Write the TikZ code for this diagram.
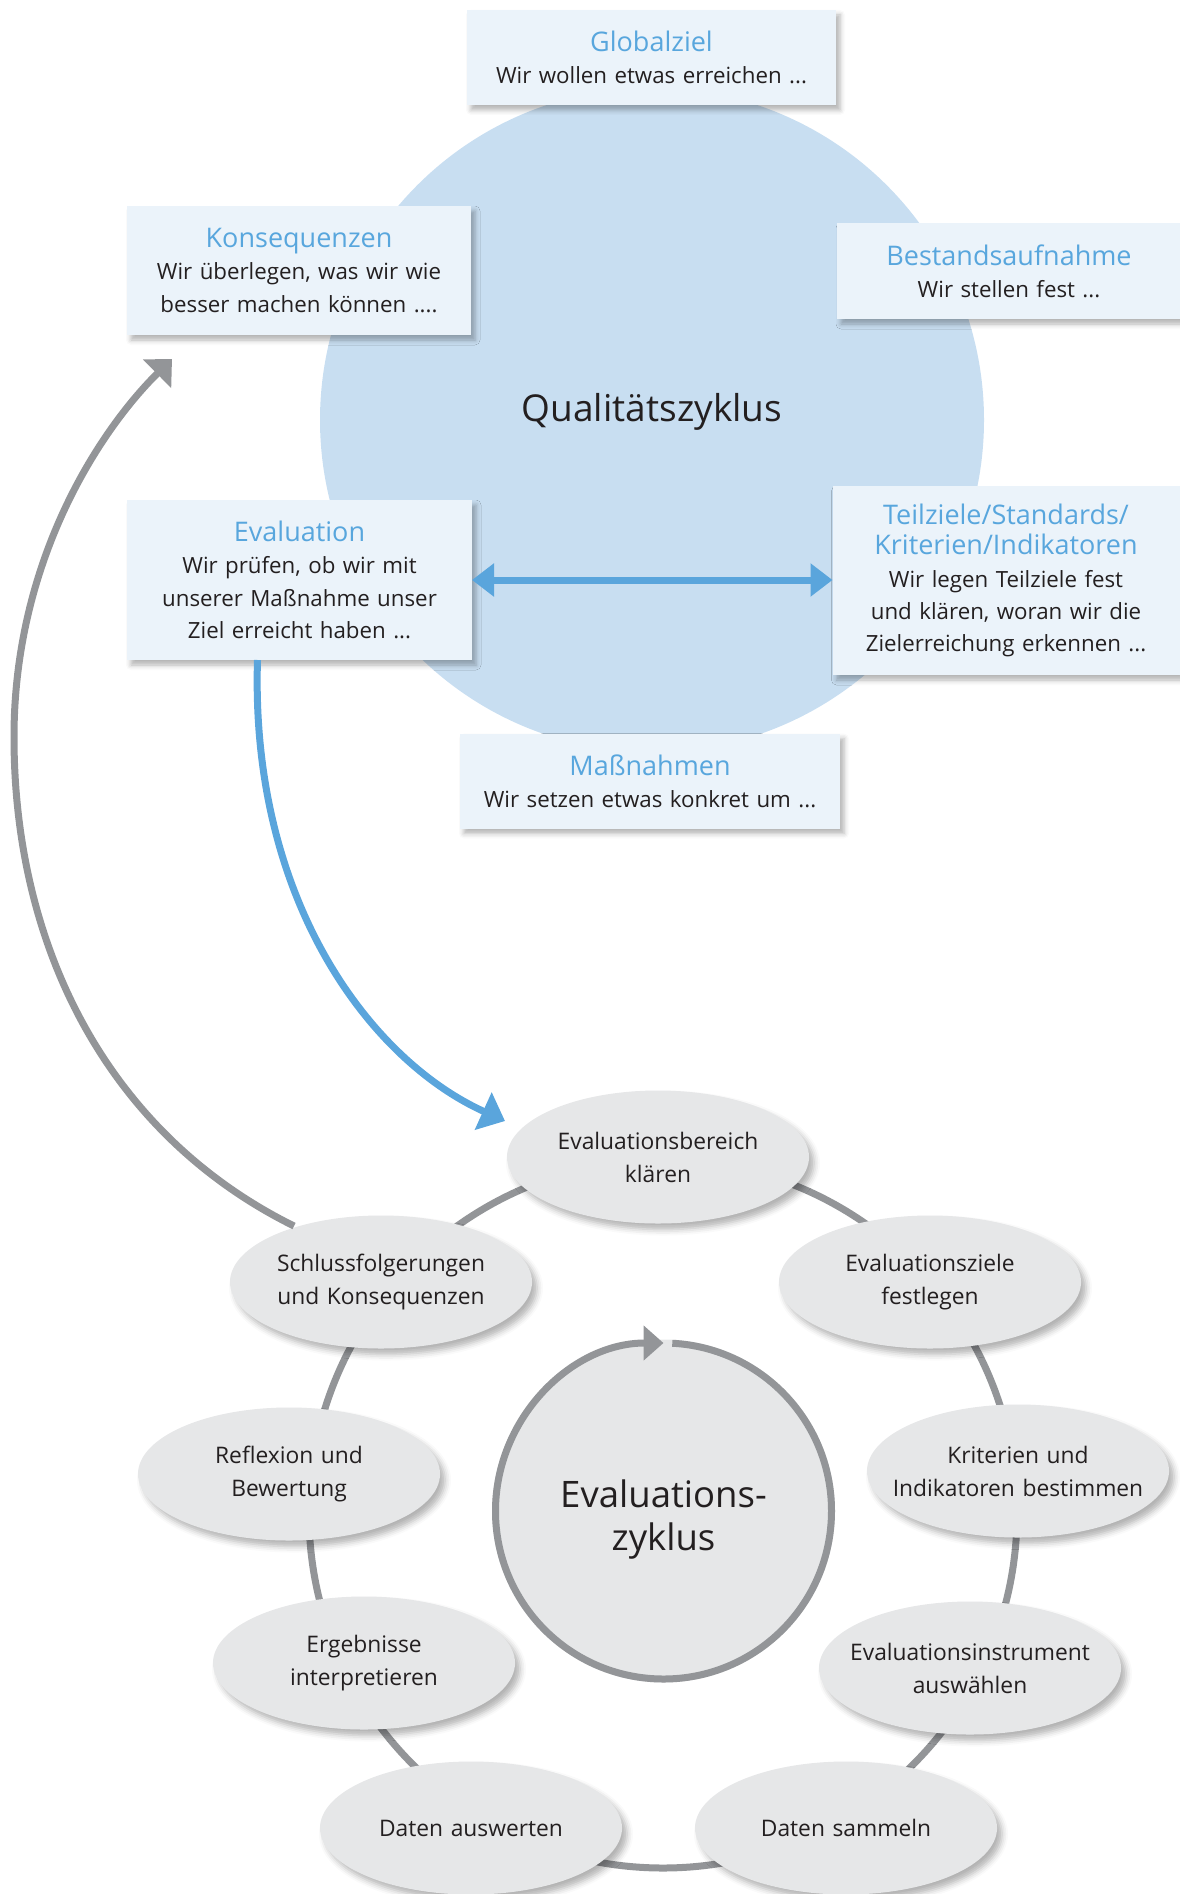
\documentclass[tikz,border=0pt]{standalone}
\usepackage{fontspec}
\setmainfont{Open Sans}
\usetikzlibrary{arrows.meta,shapes.geometric,calc,shadows.blur}
\definecolor{tblue}{RGB}{88,166,221}
\definecolor{boxfill}{RGB}{235,243,250}
\definecolor{circblue}{RGB}{200,222,241}
\definecolor{arrblue}{RGB}{90,165,220}
\definecolor{cgray}{RGB}{147,149,152}
\definecolor{ellfill}{RGB}{230,231,232}
\definecolor{txt}{RGB}{35,31,32}
\newcommand\ttl[1]{\leavevmode{\color{tblue}\fontsize{27pt}{29pt}\selectfont #1}}
\begin{document}
\begin{tikzpicture}[x=1pt,y=1pt,
  box/.style={rectangle, fill=boxfill, inner sep=0pt, outer sep=0pt, align=center,
    font=\fontsize{22.3pt}{32.3pt}\selectfont, text=txt,
    blur shadow={shadow xshift=4pt, shadow yshift=-5pt, shadow blur radius=5pt, shadow opacity=30}},
  ell/.style={ellipse, fill=ellfill, minimum width=302pt, minimum height=133pt, inner sep=0pt, outer sep=0pt,
    blur shadow={shadow xshift=5pt, shadow yshift=-6pt, shadow blur radius=6pt, shadow opacity=30}},
  etext/.style={text width=300pt, align=center, text=txt, font=\fontsize{22.8pt}{33pt}\selectfont},
  grayline/.style={draw=cgray, line width=7pt},
  blueline/.style={draw=arrblue, line width=7pt}
]
\useasboundingbox (0,0) rectangle (1179,-1894);
% Qualitaetszyklus
\node[circle, fill=circblue, minimum size=664pt, inner sep=0pt] (qc) at (652,-420) {};
\node[text=txt, font=\fontsize{37pt}{44pt}\selectfont] (qct) at (652,-412) {Qualitätszyklus};
\node[box, minimum width=369pt, minimum height=95pt, text width=369pt] (glob) at (651.5,-57.5)
  {\ttl{Globalziel}\\Wir wollen etwas erreichen ...};
\node[box, minimum width=344pt, minimum height=129pt, text width=344pt] (kons) at (299,-270.5)
  {\ttl{Konsequenzen}\\Wir überlegen, was wir wie\\besser machen können ....};
\node[box, minimum width=344pt, minimum height=96pt, text width=344pt] (best) at (1009,-271)
  {\ttl{Bestandsaufnahme}\\Wir stellen fest ...};
\node[box, minimum width=345pt, minimum height=160pt, text width=345pt] (eval) at (299.5,-580)
  {\ttl{Evaluation}\\Wir prüfen, ob wir mit\\unserer Maßnahme unser\\Ziel erreicht haben ...};
\node[box, minimum width=347pt, minimum height=189pt, text width=347pt] (teil) at (1006,-580.5)
  {\ttl{Teilziele/Standards/\\[-2pt]Kriterien/Indikatoren}\\Wir legen Teilziele fest\\und klären, woran wir die\\Zielerreichung erkennen ...};
\node[box, minimum width=380pt, minimum height=95pt, text width=380pt] (mass) at (650,-781)
  {\ttl{Maßnahmen}\\Wir setzen etwas konkret um ...};
\draw[blueline, {Triangle[length=22pt,width=32pt]}-{Triangle[length=22pt,width=32pt]}]
  (eval.east) -- (eval.east -| teil.west);
% Evaluationszyklus
\coordinate (ringc) at (663,-1514);
\draw[grayline] (ringc) circle[radius=354];
\node[circle, fill=ellfill, minimum size=343pt, inner sep=0pt, outer sep=0pt] (ez) at (663.5,-1511) {};
\node[etext, font=\fontsize{36.5pt}{43pt}\selectfont] (ezt) at (663.5,-1519) {Evaluations-\\zyklus};
\draw[grayline, -{Triangle[length=20pt,width=34pt]}] ($(ez.center)+(87:168)$) arc[start angle=87, end angle=-270, radius=168];
\node[ell] (e1) at (658,-1157) {};
\node[etext] (e1t) at (e1) {Evaluationsbereich\\klären};
\node[ell] (e2) at (930,-1282) {};
\node[etext] (e2t) at (e2) {Evaluationsziele\\festlegen};
\node[ell] (e3) at (1018,-1471) {};
\node[etext] (e3t) at (e3) {Kriterien und\\Indikatoren bestimmen};
\node[ell] (e4) at (970,-1668) {};
\node[etext] (e4t) at (e4) {Evaluationsinstrument\\auswählen};
\node[ell] (e5) at (846,-1828) {};
\node[etext] (e5t) at (e5) {Daten sammeln};
\node[ell] (e6) at (471,-1828) {};
\node[etext] (e6t) at (e6) {Daten auswerten};
\node[ell] (e7) at (364,-1663) {};
\node[etext] (e7t) at (e7) {Ergebnisse\\interpretieren};
\node[ell] (e8) at (289,-1474) {};
\node[etext] (e8t) at (e8) {Reflexion und\\Bewertung};
\node[ell] (e9) at (381,-1282) {};
\node[etext] (e9t) at (e9) {Schlussfolgerungen\\und Konsequenzen};
% connectors between the cycles
\coordinate (btip) at ($(e1.west)+(-2,36)$);
\draw[blueline, -{Triangle[length=24pt,width=40pt]}] ($(eval.south)+(-42,0)$)
  .. controls (250,-900) and (370,-1060) .. (btip);
\coordinate (gtip) at ($(kons.south west)+(45,-24)$);
\draw[grayline, -{Triangle[length=21pt,width=39pt]}] ($(e9.center)+(-87,56)$)
  .. controls (110,-1135) and (14,-950) .. (14,-737)
  .. controls (14,-560) and (100,-430) .. (gtip);
\end{tikzpicture}
\end{document}
